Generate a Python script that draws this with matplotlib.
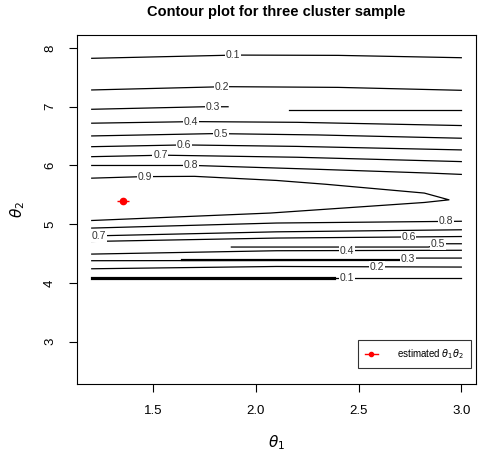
import numpy as np
import matplotlib.pyplot as plt
from matplotlib.lines import Line2D

plt.rcParams['font.family'] = ['Liberation Sans', 'DejaVu Sans']
plt.rcParams['mathtext.fontset'] = 'dejavusans'

# contour lines (theta1, theta2), level = likelihood ratio
top_01_x = [1.2, 1.9, 2.4, 3.0]
top_01_y = [7.825, 7.88, 7.875, 7.835]
top_02_x = [1.2, 1.85, 2.4, 3.0]
top_02_y = [7.286, 7.342, 7.33, 7.28]
top_03a_x = [1.2, 1.75, 1.864]
top_03a_y = [6.957, 7.0, 7.0]
top_03b_x = [2.16, 3.0]
top_03b_y = [6.94, 6.94]
top_04_x = [1.2, 1.7, 2.2, 3.0]
top_04_y = [6.72, 6.747, 6.735, 6.68]
top_05_x = [1.2, 1.8, 2.3, 3.0]
top_05_y = [6.503, 6.543, 6.52, 6.464]
top_06_x = [1.2, 1.65, 2.2, 3.0]
top_06_y = [6.32, 6.35, 6.325, 6.265]
top_07_x = [1.2, 1.55, 2.2, 3.0]
top_07_y = [6.15, 6.175, 6.14, 6.066]
top_08_x = [1.2, 1.7, 2.3, 2.85, 3.0]
top_08_y = [6.0, 6.0, 5.935, 5.87, 5.848]
ring_09_x = [1.2, 1.45, 1.7, 2.1, 2.34, 2.82, 2.94, 2.82, 2.07, 1.2]
ring_09_y = [5.784, 5.81, 5.815, 5.745, 5.68, 5.53, 5.415, 5.37, 5.19, 5.063]
low_08_x = [1.2, 2.1, 3.0]
low_08_y = [4.934, 5.02, 5.05]
low_07_x = [1.2, 2.1, 3.0]
low_07_y = [4.80, 4.87, 4.905]
low_06_x = [1.2, 2.1, 3.0]
low_06_y = [4.706, 4.764, 4.79]
low_05_x = [1.88, 2.84, 2.9, 3.0]
low_05_y = [4.611, 4.611, 4.667, 4.667]
low_04_x = [1.2, 2.1, 3.0]
low_04_y = [4.491, 4.548, 4.556]
low_03_x = [1.2, 2.7, 2.78, 3.0]
low_03_y = [4.378, 4.385, 4.423, 4.423]
low_03dup_x = [1.64, 2.70]
low_03dup_y = [4.392, 4.392]
low_02_x = [1.2, 2.1, 3.0]
low_02_y = [4.241, 4.28, 4.27]
low_01_x = [1.2, 3.0]
low_01_y = [4.083, 4.083]
low_01dup_x = [1.2, 2.38]
low_01dup_y = [4.083, 4.083]

est_theta1 = [1.35]
est_theta2 = [5.40]

# (x, y, label, label x)
lines = [
    (top_01_x, top_01_y, '0.1', 1.887),
    (top_02_x, top_02_y, '0.2', 1.832),
    (top_03a_x, top_03a_y, '0.3', 1.79),
    (top_03b_x, top_03b_y, None, None),
    (top_04_x, top_04_y, '0.4', 1.682),
    (top_05_x, top_05_y, '0.5', 1.829),
    (top_06_x, top_06_y, '0.6', 1.65),
    (top_07_x, top_07_y, '0.7', 1.534),
    (top_08_x, top_08_y, '0.8', 1.682),
    (ring_09_x, ring_09_y, '0.9', 1.461),
    (low_08_x, low_08_y, '0.8', 2.924),
    (low_07_x, low_07_y, '0.7', 1.235),
    (low_06_x, low_06_y, '0.6', 2.743),
    (low_05_x, low_05_y, '0.5', 2.888),
    (low_04_x, low_04_y, '0.4', 2.443),
    (low_03_x, low_03_y, '0.3', 2.74),
    (low_02_x, low_02_y, '0.2', 2.59),
    (low_01_x, low_01_y, '0.1', 2.445),
]

fig = plt.figure(figsize=(4.78, 4.62), dpi=100)
ax = fig.add_axes([0.161, 0.169, 0.835, 0.755])

for xs, ys, lab, lx in lines:
    ax.plot(xs, ys, color='black', lw=0.9, zorder=2)
    if lab is not None:
        n = 7 if xs is ring_09_x else len(xs)
        ly = np.interp(lx, xs[:n], ys[:n])
        ax.text(lx, ly, lab, fontsize=7.5, ha='center', va='center', color='#333333',
                bbox=dict(facecolor='white', edgecolor='none', pad=0.5), zorder=3)

# overlapping pieces show up heavier in the original
ax.plot(low_03dup_x, low_03dup_y, color='black', lw=1.6, zorder=2)
ax.plot(low_01dup_x, low_01dup_y, color='black', lw=2.3, zorder=2)

ax.plot(est_theta1, est_theta2, marker='o', ms=4.5, color='red', ls='none', zorder=4)
ax.plot(est_theta1, est_theta2, marker='_', ms=9, mew=1.0, color='red', ls='none', zorder=4)

ax.set_xlim(1.128, 3.072)
ax.set_ylim(2.28, 8.22)
ax.set_xticks([1.5, 2.0, 2.5, 3.0])
ax.set_xticklabels(['1.5', '2.0', '2.5', '3.0'])
ax.set_yticks([3, 4, 5, 6, 7, 8])
ax.tick_params(direction='out', length=6, width=0.8, labelsize=9.5, pad=9)
for lbl in ax.get_yticklabels():
    lbl.set_rotation(90)
    lbl.set_va('center')
for s in ax.spines.values():
    s.set_linewidth(0.8)

ax.set_xlabel(r'$\theta_1$', fontsize=11, labelpad=12)
ax.set_ylabel(r'$\theta_2$', fontsize=11, labelpad=12)
ax.set_title('Contour plot for three cluster sample', fontsize=10.5, fontweight='bold', pad=14)

handle = Line2D([], [], color='red', marker='o', ms=3, lw=1.0)
leg = ax.legend([handle], [r'estimated $\theta_1\theta_2$'], loc='lower right',
                bbox_to_anchor=(0.987, 0.047), borderaxespad=0, fontsize=7,
                fancybox=False, edgecolor='black', handlelength=1.3,
                borderpad=0.7, handletextpad=2.0)
leg.get_frame().set_linewidth(0.8)

fig.savefig('out.png', dpi=100)
